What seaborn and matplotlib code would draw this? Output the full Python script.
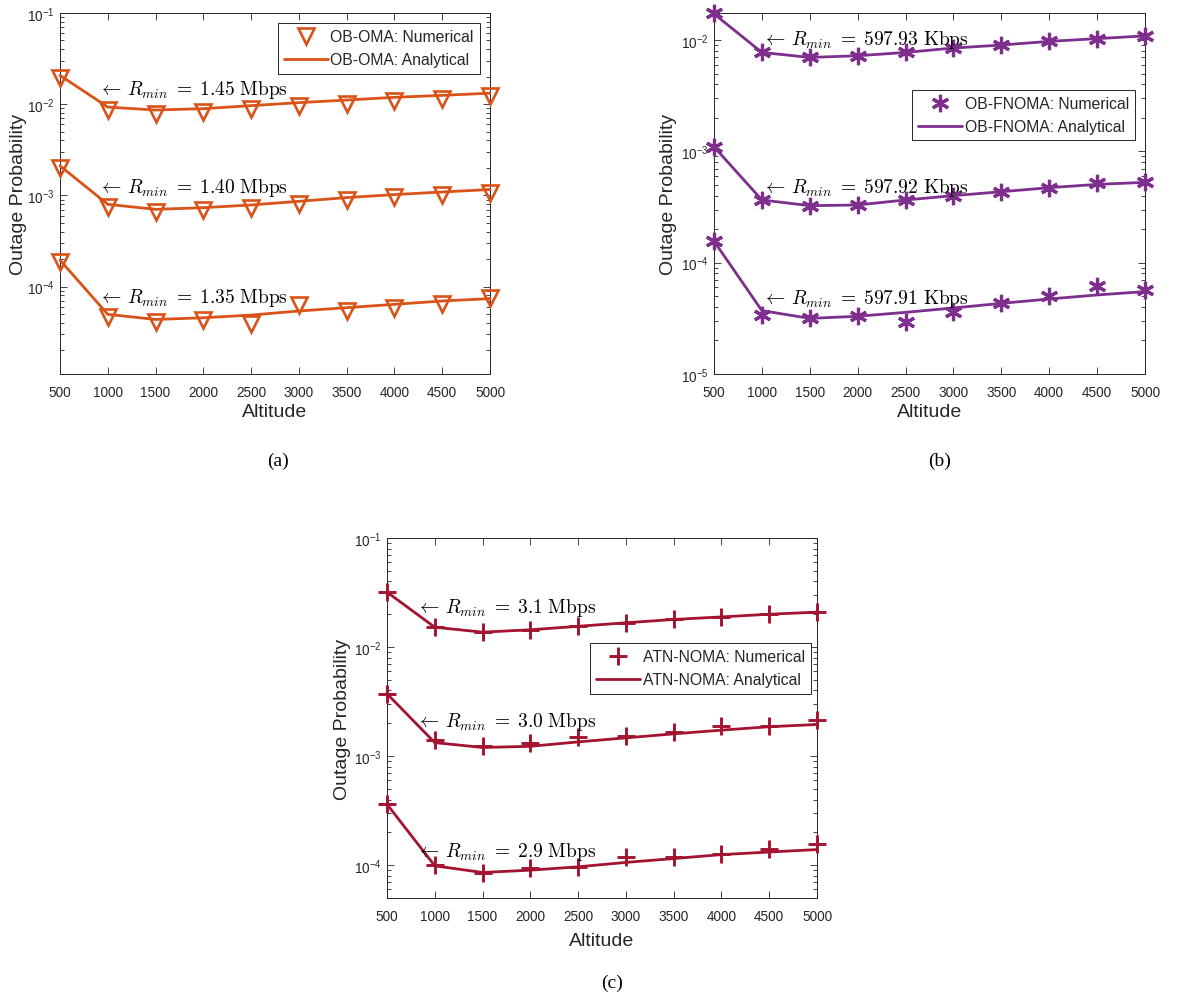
import numpy as np
import pandas as pd
import matplotlib
matplotlib.use("Agg")
import matplotlib.pyplot as plt
from matplotlib.lines import Line2D
from matplotlib.ticker import LogLocator, FixedLocator, NullFormatter
import seaborn as sns

# ---------------------------------------------------------------- data
altitude = [500, 1000, 1500, 2000, 2500, 3000, 3500, 4000, 4500, 5000]
xtick_labels = [str(v) for v in altitude]

# (a) OB-OMA
oma_rates = ["1.45", "1.40", "1.35"]
oma_analytical = [
    [0.0207, 0.0093, 0.00863, 0.00893, 0.00964, 0.0104, 0.0111, 0.0119, 0.0125, 0.0132],
    [0.00211, 0.000798, 0.000703, 0.000733, 0.000785, 0.000861, 0.000946, 0.00102, 0.00109, 0.00116],
    [0.000195, 4.96e-5, 4.36e-5, 4.55e-5, 4.87e-5, 5.4e-5, 5.87e-5, 6.39e-5, 6.95e-5, 7.38e-5],
]
oma_numerical = [
    [0.0195, 0.00871, 0.00780, 0.00815, 0.00893, 0.00964, 0.01015, 0.01094, 0.01151, 0.01222],
    [0.00198, 0.000746, 0.000657, 0.000685, 0.000733, 0.000798, 0.000883, 0.000961, 0.001003, 0.001074],
    [0.000184, 4.62e-5, 4.11e-5, 4.25e-5, 3.91e-5, 6.28e-5, 5.40e-5, 5.87e-5, 6.50e-5, 7.45e-5],
]

# (b) OB-FNOMA
fnoma_rates = ["597.93", "597.92", "597.91"]
fnoma_analytical = [
    [0.0172, 0.00774, 0.00698, 0.00723, 0.00774, 0.00848, 0.00902, 0.00973, 0.0103, 0.0109],
    [0.0011, 0.000366, 0.000325, 0.000330, 0.000366, 0.000400, 0.000434, 0.000472, 0.000505, 0.000527],
    [0.000156, 3.71e-5, 3.16e-5, 3.30e-5, 3.58e-5, 3.92e-5, 4.31e-5, 4.72e-5, 5.13e-5, 5.5e-5],
]
fnoma_numerical = [
    [0.0175, 0.00774, 0.00698, 0.00723, 0.00774, 0.00848, 0.00902, 0.00973, 0.0103, 0.0109],
    [0.0011, 0.000366, 0.000325, 0.000328, 0.000366, 0.000400, 0.000434, 0.000472, 0.000517, 0.000527],
    [0.000156, 3.4e-5, 3.2e-5, 3.35e-5, 2.95e-5, 3.6e-5, 4.33e-5, 5.0e-5, 6.2e-5, 5.7e-5],
]

# (c) ATN-NOMA
atn_rates = ["3.1", "3.0", "2.9"]
atn_analytical = [
    [0.0319, 0.0152, 0.0137, 0.0144, 0.0155, 0.0167, 0.0179, 0.0189, 0.0200, 0.0209],
    [0.00373, 0.00133, 0.00120, 0.00123, 0.00135, 0.00147, 0.00160, 0.00173, 0.00186, 0.00195],
    [0.000362, 9.86e-5, 8.57e-5, 9.0e-5, 9.66e-5, 1.06e-4, 1.15e-4, 1.25e-4, 1.32e-4, 1.39e-4],
]
atn_numerical = [
    [0.0319, 0.0152, 0.0137, 0.0144, 0.0155, 0.0167, 0.0179, 0.0189, 0.0200, 0.0209],
    [0.00373, 0.00142, 0.00125, 0.00132, 0.00150, 0.00153, 0.00168, 0.00187, 0.00188, 0.00216],
    [0.000362, 1.0e-4, 8.4e-5, 9.5e-5, 9.66e-5, 1.19e-4, 1.18e-4, 1.26e-4, 1.40e-4, 1.58e-4],
]

# ---------------------------------------------------------------- style
sns.set_theme(style="ticks")
plt.rcParams["font.family"] = ["Liberation Sans", "DejaVu Sans"]
plt.rcParams["mathtext.fontset"] = "cm"
AX_COLOR = "#262626"

fig = plt.figure(figsize=(11.98, 9.95), dpi=100)


def draw_panel(rect, name, color, marker, msize, mew, rates, unit, analytical, numerical,
               ylim, yticks, note_x, note_y, legend_anchor, ylabel_x, xlabel_y):
    ax = fig.add_axes(rect)
    for num, ana in zip(numerical, analytical):
        df = pd.DataFrame({"altitude": altitude, "num": num, "ana": ana})
        sns.lineplot(data=df, x="altitude", y="num", ax=ax, color=color,
                     marker=marker, markersize=msize, linestyle="",
                     markerfacecolor="none", markeredgecolor=color,
                     markeredgewidth=mew, clip_on=False, zorder=3)
        sns.lineplot(data=df, x="altitude", y="ana", ax=ax, color=color,
                     linewidth=2.0, clip_on=False, zorder=4)
    for r, ny in zip(rates, note_y):
        ax.text(note_x, ny,
                r"$\leftarrow\, R_{min}\;=\;" + r + r"\ \mathrm{" + unit + "}$",
                fontsize=14, va="center", ha="left", color="black", zorder=5)

    ax.set_yscale("log")
    ax.set_xlim(500, 5000)
    ax.set_ylim(*ylim)
    ax.xaxis.set_major_locator(FixedLocator(altitude))
    ax.set_xticklabels(xtick_labels)
    ax.yaxis.set_major_locator(FixedLocator(yticks))
    ax.yaxis.set_minor_locator(LogLocator(base=10, subs=np.arange(2, 10)))
    ax.yaxis.set_minor_formatter(NullFormatter())
    ax.tick_params(axis="both", which="both", direction="in", top=True, right=True,
                   colors=AX_COLOR, labelsize=9.8, width=0.6)
    ax.tick_params(axis="both", which="major", length=5)
    ax.tick_params(axis="y", which="minor", length=3)
    ax.tick_params(axis="x", which="major", pad=8)
    for sp in ax.spines.values():
        sp.set_visible(True)
        sp.set_color(AX_COLOR)
        sp.set_linewidth(0.7)
    ax.set_xlabel("Altitude", fontsize=14, color=AX_COLOR)
    ax.set_ylabel("Outage Probability", fontsize=14, color=AX_COLOR)
    ax.yaxis.set_label_coords(ylabel_x, 0.5)
    ax.xaxis.set_label_coords(0.5, xlabel_y)

    handles = [
        Line2D([], [], color=color, marker=marker, markersize=msize, linestyle="",
               markerfacecolor="none", markeredgecolor=color, markeredgewidth=mew),
        Line2D([], [], color=color, linewidth=2.0),
    ]
    leg = ax.legend(handles, [f"{name}: Numerical", f"{name}: Analytical"],
                    loc="upper right", bbox_to_anchor=legend_anchor, fontsize=11.3,
                    frameon=True, fancybox=False, framealpha=1, edgecolor=AX_COLOR,
                    handlelength=2.8, handletextpad=0.15, borderpad=0.4,
                    labelspacing=0.5, borderaxespad=0)
    leg.get_frame().set_linewidth(0.7)
    return ax


draw_panel([60 / 1198, 1 - 375 / 995, 430 / 1198, 361 / 995], "OB-OMA", "#D95319", "v", 12, 1.9,
           oma_rates, "Mbps", oma_analytical, oma_numerical,
           (1.1e-5, 0.1), [1e-4, 1e-3, 1e-2, 1e-1],
           900, [0.0148, 0.00124, 7.65e-5], (0.977, 0.972), -0.077, -0.080)

draw_panel([714 / 1198, 1 - 375 / 995, 431 / 1198, 361 / 995], "OB-FNOMA", "#7E2F8E", (6, 2, 0), 12.5, 2.3,
           fnoma_rates, "Kbps", fnoma_analytical, fnoma_numerical,
           (1e-5, 0.0175), [1e-5, 1e-4, 1e-3, 1e-2],
           1000, [0.0102, 0.000477, 4.8e-5], (0.977, 0.787), -0.086, -0.080)

draw_panel([387 / 1198, 1 - 899 / 995, 430 / 1198, 360 / 995], "ATN-NOMA", "#A2142F", "+", 13.5, 2.1,
           atn_rates, "Mbps", atn_analytical, atn_numerical,
           (5e-5, 0.1), [1e-4, 1e-3, 1e-2, 1e-1],
           800, [0.0233, 0.00211, 1.36e-4], (0.986, 0.708), -0.084, -0.094)

for label, x, y in [("(a)", 278, 461), ("(b)", 940, 461), ("(c)", 612, 983)]:
    fig.text(x / 1198, 1 - y / 995, label, ha="center", va="center", fontsize=14,
             family=["Liberation Serif", "DejaVu Serif"], color="black")

fig.savefig("out.png", dpi=100, facecolor="white")
